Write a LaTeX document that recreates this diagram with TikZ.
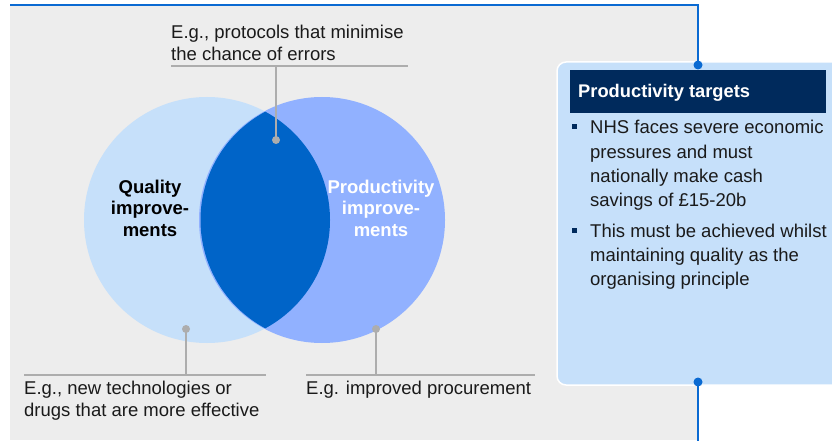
\documentclass[tikz,border=0pt]{standalone}
\usepackage{fontspec}
\setmainfont{Liberation Sans}
\definecolor{bggray}{HTML}{EDEDED}
\definecolor{lightblue}{HTML}{C6E0FA}
\definecolor{midblue}{HTML}{91B1FF}
\definecolor{deepblue}{HTML}{0064C8}
\definecolor{navy}{HTML}{002A5C}
\definecolor{lineblue}{HTML}{0A6AD2}
\definecolor{callgray}{HTML}{ADADAD}
\definecolor{txt}{HTML}{1A1A1A}
\begin{document}
\begin{tikzpicture}[x=1pt,y=-1pt,
  txtfont/.style={font=\fontsize{18.5}{22}\selectfont, text=txt, inner sep=0pt},
  bodytext/.style={txtfont, anchor=base west},
  circlabel/.style={font=\fontsize{18.5}{21.7}\selectfont\bfseries, align=center, inner sep=0pt},
  callline/.style={draw=callgray, line width=2pt},
  calldot/.style={circle, fill=callgray, minimum size=8pt, inner sep=0pt},
  blueline/.style={draw=lineblue, line width=2pt},
  bluedot/.style={circle, fill=lineblue, minimum size=9pt, inner sep=0pt},
  bulletsq/.style={fill=navy, minimum size=5pt, inner sep=0pt}]
\useasboundingbox (0,0) rectangle (832,441);
% background panel
\fill[bggray] (10,5) rectangle (698,440);
% venn circles
\fill[lightblue] (207,220) circle (123);
\fill[midblue] (322,220) circle (123);
\begin{scope}
  \clip (207,220) circle (123);
  \fill[deepblue] (323.5,220) circle (123);
\end{scope}
% right box
\fill[lightblue, draw=white, line width=1.5pt, rounded corners=9pt] (557,62) rectangle (845,385);
\node[fill=navy, minimum width=256pt, minimum height=43pt, inner sep=0pt, anchor=north west] (hdr) at (570,70) {};
\node[font=\fontsize{18.3}{22}\selectfont\bfseries, text=white, anchor=base west, inner sep=0pt] (hdrtext) at (578,98) {Productivity targets};
% blue frame line and dots
\coordinate (tl) at (10,5);
\coordinate (tr) at (698,5);
\node[bluedot] (dtop) at (698,65) {};
\node[bluedot] (dbot) at (698,382) {};
\coordinate (bend) at (698,441);
\draw[blueline] (tl) -- (tr) -- (dtop.center);
\draw[blueline] (dbot.center) -- (bend);
% bullets
\node[bulletsq] (b1) at (574.5,126.5) {};
\node[bodytext] (l1) at (590,134) {NHS faces severe economic};
\node[bodytext] (l2) at (590,158) {pressures and must};
\node[bodytext] (l3) at (590,182) {nationally make cash};
\node[bodytext] (l4) at (590,206) {savings of £15-20b};
\node[bulletsq] (b2) at (574.5,230) {};
\node[bodytext] (l5) at (590,237.5) {This must be achieved whilst};
\node[bodytext] (l6) at (590,261.5) {maintaining quality as the};
\node[bodytext] (l7) at (590,285.5) {organising principle};
% circle labels (anchor = baseline of last line)
\node[circlabel, text=black, anchor=base] (ql) at (150,236.5) {Quality\\improve-\\ments};
\node[circlabel, text=white, anchor=base] (pl) at (381,236.5) {Productivity\\improve-\\ments};
% top callout
\node[bodytext] (t1) at (171,39) {E.g., protocols that minimise};
\node[bodytext] (t2) at (171,61) {the chance of errors};
\coordinate (th1) at (171,66.5);
\coordinate (th2) at (408,66.5);
\coordinate (tj) at (276,66.5);
\node[calldot] (tdot) at (276,140) {};
\draw[callline] (th1) -- (th2);
\draw[callline] (tj) -- (tdot.center);
% bottom-left callout
\node[calldot] (ldot) at (186,329) {};
\coordinate (lh1) at (24,374.5);
\coordinate (lh2) at (266,374.5);
\coordinate (lj) at (186,374.5);
\draw[callline] (lh1) -- (lh2);
\draw[callline] (ldot.center) -- (lj);
\node[bodytext] (bl1) at (24,394.5) {E.g., new technologies or};
\node[bodytext] (bl2) at (24,416) {drugs that are more effective};
% bottom-right callout
\node[calldot] (rdot) at (376,329) {};
\coordinate (rh1) at (306,374.5);
\coordinate (rh2) at (535,374.5);
\coordinate (rj) at (376,374.5);
\draw[callline] (rh1) -- (rh2);
\draw[callline] (rdot.center) -- (rj);
\node[bodytext] (br1) at (306,394.5) {E.g. improved procurement};
\end{tikzpicture}
\end{document}
